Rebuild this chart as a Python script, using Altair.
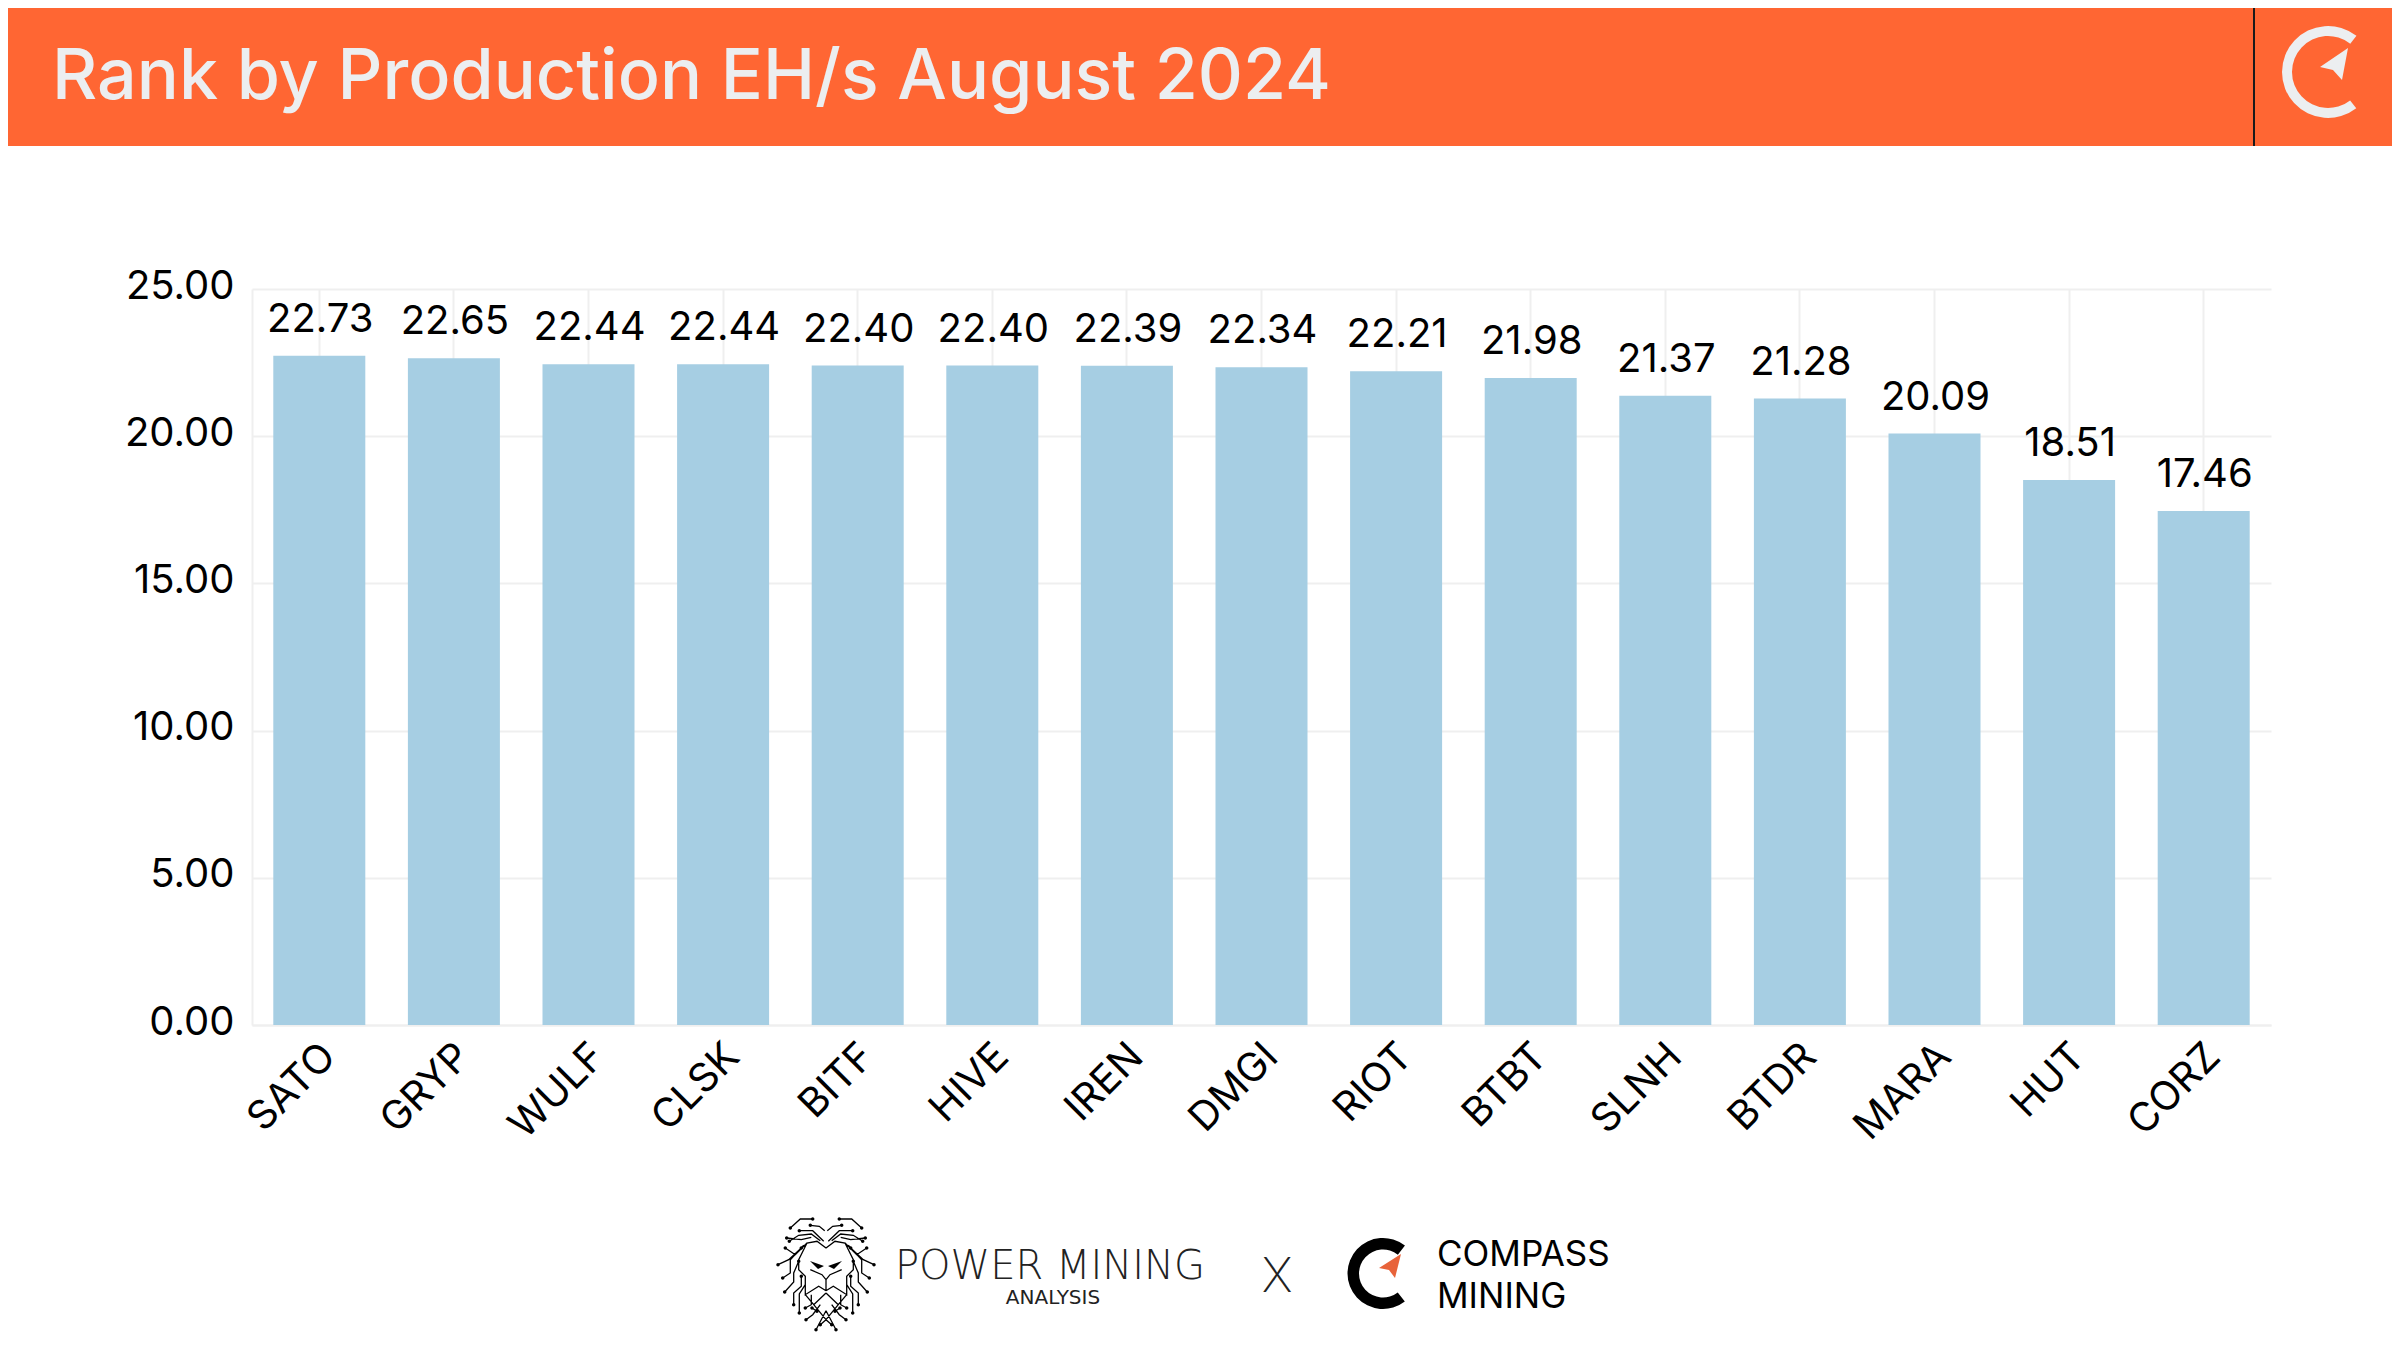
import altair as alt
import pandas as pd

tickers = ["SATO", "GRYP", "WULF", "CLSK", "BITF", "HIVE", "IREN", "DMGI", "RIOT", "BTBT", "SLNH", "BTDR", "MARA", "HUT", "CORZ"]
values = [22.73, 22.65, 22.44, 22.44, 22.40, 22.40, 22.39, 22.34, 22.21, 21.98, 21.37, 21.28, 20.09, 18.51, 17.46]
y_ticks = [0, 5, 10, 15, 20, 25]

title_text = "Rank by Production EH/s August 2024"
ORANGE = "#FF6633"
PALE = "#ECEEF0"
BLUE = "#A6CEE3"
GRID = "#EFEFEF"
FONT = "Inter"

# page position of the plot area's origin
OX, OY = 254, 289
PW, PH = 2019, 736
CW, CH = 2384, 1334
MARGIN_X, MARGIN_Y = 10, 8


def px(v):
    return alt.value(v - OX)


def py(v):
    return alt.value(v - OY)


df = pd.DataFrame({"ticker": tickers, "value": values})
one = pd.DataFrame({"a": [1]})

x_enc = alt.X(
    "ticker:N", sort=tickers, title=None,
    scale=alt.Scale(paddingInner=0.317, paddingOuter=0.1585),
    axis=alt.Axis(
        labelAngle=315, labelAlign="right", labelBaseline="middle", labelPadding=25, labelOffset=10,
        labelFont=FONT, labelFontSize=40, labelColor="#000000", ticks=False,
        domain=True, domainColor=GRID, domainWidth=2, grid=True, gridColor=GRID, gridWidth=2,
    ),
)
y_enc = alt.Y(
    "value:Q", title=None, scale=alt.Scale(domain=[0, 25], nice=False),
    axis=alt.Axis(
        values=y_ticks, format=".2f", labelFont=FONT, labelFontSize=40, labelColor="#000000",
        labelPadding=18, labelOffset=-3, ticks=False, domain=True, domainColor=GRID, domainWidth=2,
        grid=True, gridColor=GRID, gridWidth=2,
    ),
)

bars = alt.Chart(df).mark_bar(color=BLUE, size=92).encode(x=x_enc, y=y_enc)
labels = alt.Chart(df).mark_text(
    font=FONT, fontSize=40, color="#000000", dy=-24, baseline="alphabetic", dx=1
).encode(
    x=alt.X("ticker:N", sort=tickers), y=alt.Y("value:Q"), text=alt.Text("value:Q", format=".2f")
)


def rect(x1, x2, y1, y2, color):
    return alt.Chart(one).mark_rect(color=color).encode(x=px(x1), x2=px(x2), y=py(y1), y2=py(y2))


def text(s, x, y, size, color="#000000", weight=400, align="left", font=FONT):
    return alt.Chart(one).mark_text(
        text=s, font=font, fontSize=size, color=color, fontWeight=weight, align=align, baseline="alphabetic"
    ).encode(x=px(x), y=py(y))


def arc(cx, cy, r0, r1, color):
    return alt.Chart(one).mark_arc(
        theta=2.48, theta2=6.95, radius=r1, radius2=r0, color=color
    ).encode(x=px(cx), y=py(cy))


def glyph(path, x, y, fill=None, stroke=None, sw=1.5):
    kw = {"filled": True, "fill": fill, "strokeWidth": 0} if fill else {"filled": False, "stroke": stroke, "strokeWidth": sw}
    return alt.Chart(one).mark_point(shape=path, size=4, opacity=1, **kw).encode(x=px(x), y=py(y))


# lion logo, right half in zoomed units, mirrored around its centre
trace_r = [
    [(228, 43), (265, 43), (295, 70)],
    [(235, 62), (208, 65), (192, 78)],
    [(195, 110), (228, 78), (268, 78)],
    [(205, 108), (232, 88), (270, 92), (298, 110)],
    [(232, 98), (262, 105), (306, 100)],
    [(245, 115), (280, 150), (310, 130)],
    [(262, 130), (300, 165), (332, 180)],
    [(255, 122), (295, 165), (295, 205), (318, 220)],
    [(270, 170), (285, 205), (285, 232), (312, 262)],
    [(262, 215), (262, 245), (285, 265), (285, 300)],
    [(250, 240), (268, 268), (268, 325)],
    [(232, 270), (232, 300), (250, 310)],
    [(225, 300), (188, 265)],
    [(205, 300), (228, 330), (248, 345)],
    [(188, 318), (218, 375)],
    [(188, 345), (205, 360)],
    [(215, 320), (230, 310)],
]
face_r = [
    [(188, 130), (215, 110), (245, 115), (270, 165), (270, 195), (250, 215), (250, 270), (210, 245), (188, 258)],
    [(235, 195), (200, 210), (188, 225), (188, 258)],
    [(250, 270), (225, 300), (188, 345)],
]


def mirror(line):
    return [(376 - a, b) for a, b in line]


all_traces = trace_r + face_r + [mirror(l) for l in trace_r + face_r]
line_path = " ".join(
    "M" + " L".join(f"{(a - 188) / 3:.1f} {(b - 205) / 3:.1f}" for a, b in l) for l in all_traces
)
ends = [l[0] for l in trace_r] + [l[-1] for l in trace_r]
ends = [p for p in ends if p[0] > 195 and p[1] < 380 and (p[0] > 260 or p[1] > 300 or p[1] < 70)]
ends = ends + [(376 - a, b) for a, b in ends]
dot_path = " ".join(
    f"M{(a - 188) / 3 - 1.7:.1f} {(b - 205) / 3:.1f} a1.7 1.7 0 1 0 3.4 0 a1.7 1.7 0 1 0 -3.4 0" for a, b in ends
)
eye_path = "M-16 -12 L-2 -7 L-8 -4 Z M16 -12 L2 -7 L8 -4 Z"

arrow_head = "M15 -16 L-13 3 L0 6 L9 16 Z"
arrow_foot = "M12 -16 L-10 -2 L0 0 L6 8 Z"

layers = [
    rect(8, 2396, 8, 146, ORANGE),
    rect(2255, 2257, 8, 146, "#1A1A1A"),
    text(title_text, 54, 99, 70, PALE, 500),
    arc(2330, 72, 36, 46, PALE),
    glyph(arrow_head, 2335, 64, fill=PALE),
    bars,
    labels,
    glyph(line_path, 828, 1273, stroke="#000000", sw=1.3),
    glyph(dot_path, 828, 1273, fill="#000000"),
    glyph(eye_path, 828, 1273, fill="#000000"),
    text("POWER MINING", 897, 1279, 40, "#222222", 200, font="DejaVu Sans"),
    text("ANALYSIS", 1055, 1304, 20, "#222222", 400, align="center", font="DejaVu Sans"),
    text("X", 1279, 1292, 48, "#222222", 200, align="center"),
    arc(1385, 1273.5, 24, 35.5, "#000000"),
    glyph(arrow_foot, 1391, 1270, fill="#E8633A"),
    text("COMPASS", 1439, 1266, 35, "#000000", 400),
    text("MINING", 1439, 1308, 35, "#000000", 400),
]

chart = alt.layer(*layers).properties(
    width=PW,
    height=PH,
    padding={"left": OX - MARGIN_X, "top": OY - MARGIN_Y, "right": CW - (OX - MARGIN_X) - PW, "bottom": CH - (OY - MARGIN_Y) - PH},
    autosize=alt.AutoSizeParams(type="none"),
    background="#FFFFFF",
).configure_view(stroke=None)

chart.save("out.html", embed_options={"renderer": "svg", "actions": False})
